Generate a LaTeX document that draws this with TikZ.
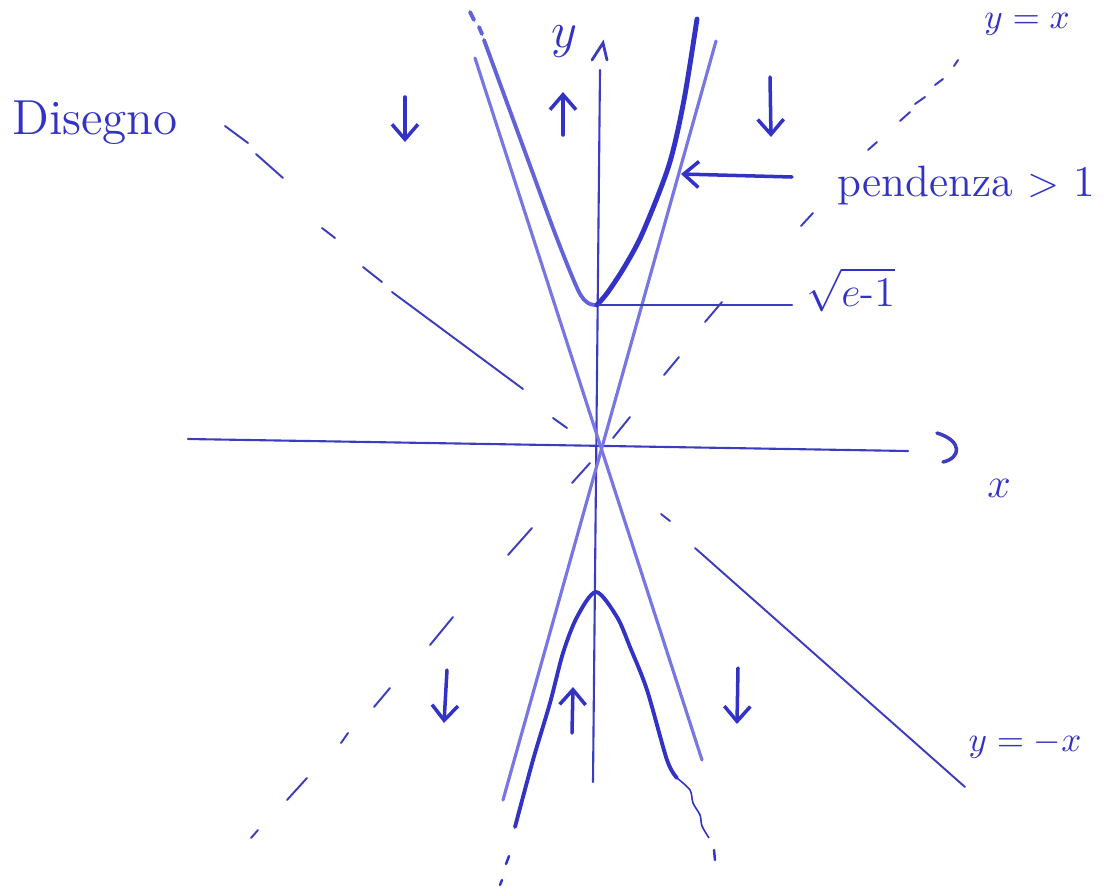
\documentclass[tikz,border=0pt]{standalone}
\usepackage{amsmath}
\usepackage{xcolor}
\usepackage{tikz}
\usetikzlibrary{arrows.meta,positioning,calc}
\definecolor{ink}{RGB}{50,50,198}
\definecolor{inkl}{RGB}{118,118,228}
\definecolor{inkd}{RGB}{60,60,190}

\begin{document}
\begin{tikzpicture}[x=0.1mm,y=-0.1mm,>={Straight Barb[length=1.5mm,width=2.6mm]},
  ax/.style={inkd,line width=0.6pt,line cap=round},
  guide/.style={inkl,line width=0.9pt,line cap=round},
  sol/.style={ink,line width=1.1pt,line cap=round,line join=round},
  diag/.style={inkd,line width=0.55pt,line cap=round},
  flow/.style={ink,line width=1pt,->,line cap=round},
  lbl/.style={text=ink,inner sep=1pt}]
  \useasboundingbox (0,0) rectangle (1104,888);
  \coordinate (O) at (598,445);
  \coordinate (xl) at (188,439);
  \coordinate (xr) at (908,451);
  \coordinate (yt) at (600,70);
  \coordinate (yb) at (593,782);
  \coordinate (vt) at (597,305);
  \coordinate (vb) at (596,592);
  \draw[ax] (xl) -- (xr);
  \draw[ax] (yb) -- (yt);
  \draw[ax,line width=1pt] (937,433) .. controls (963,441) and (961,458) .. (943,462);
  \draw[ax,line width=0.8pt] (592,60) -- (603,43) -- (607,60);
  \draw[guide] (475,58) -- (702,760);
  \draw[guide] (716,41) -- (503,800);
  \foreach \xa/\ya/\xb/\yb in {958/60/954/66,943/79/935/85,925/97/915/104,910/112/900/121,
      877/142/868/150,813/213/801/226,722/302/705/322,679/357/664/375,630/417/613/438,
      590/463/572/483,532/528/508/555,453/617/430/645,390/688/374/707,348/733/341/743,
      307/778/287/800,258/830/251/838}
    \draw[diag] (\xa,\ya) -- (\xb,\yb);
  \foreach \xa/\ya/\xb/\yb in {225/126/248/143,256/154/283/178,322/228/335/238,
      363/267/382/282,392/292/523/389,553/418/567/428,661/514/670/521,695/548/965/787}
    \draw[diag] (\xa,\ya) -- (\xb,\yb);
  \draw[sol,color=inkl!70!ink] (470,12) -- (474,20) (479,27) -- (482,34);
  \draw[sol,color=inkl!70!ink] plot[smooth] coordinates {(484,40) (528,160) (556,236) (578,290) (588,303) (vt)};
  \draw[sol,line width=1.4pt] plot[smooth] coordinates {(vt) (608,292) (625,266) (643,232) (669,165) (684,100) (697,19)};
  \draw[sol] plot[smooth] coordinates {(515,827) (533,760) (550,703) (563,653) (577,617) (vb) (617,617) (630,647) (647,690) (667,760) (677,778)};
  \draw[ink,line width=0.45pt] plot[smooth] coordinates {(677,778) (690,790) (693,803) (700,815) (702,826) (709,838)};
  \draw[sol,line width=0.7pt] (714,850) -- (715,860) (509,856) -- (506,864) (502,880) -- (500,885);
  \foreach \xa/\ya/\xb/\yb in {405/97/405/142,770/77/771/137,447/670/444/723,738/668/737/724,
      563/135/563/92,572/733/573/687}
    \draw[flow] (\xa,\ya) -- (\xb,\yb);
  \node[lbl,anchor=base west,font=\fontsize{14}{16}\selectfont] (disegno) at (8,134) {Disegno};
  \node[lbl,font=\fontsize{14}{16}\selectfont] (ylab) at (564,42) {$y$};
  \node[lbl,font=\fontsize{12}{14}\selectfont] (xlab) at (999,488) {$x$};
  \node[lbl,font=\fontsize{10}{12}\selectfont] (yeqx) at (1027,24) {$y=x$};
  \node[lbl,font=\fontsize{10}{12}\selectfont] (yeqmx) at (1025,745) {$y=-x$};
  \node[lbl,anchor=base west,font=\fontsize{12.5}{14}\selectfont] (pend) at (833,196) {pendenza $>$ 1};
  \node[lbl,anchor=base west,font=\fontsize{12}{14}\selectfont] (sqrtlab) at (802,306) {$\sqrt{e\text{-}1}$};
  \coordinate (pendtail) at (792,177);
  \coordinate (pendtip) at (681,174);
  \draw[flow] (pendtail) -- (pendtip);
  \draw[ax,line width=0.7pt] (vt) -- ([xshift=-1mm]vt -| sqrtlab.west);
\end{tikzpicture}
\end{document}
